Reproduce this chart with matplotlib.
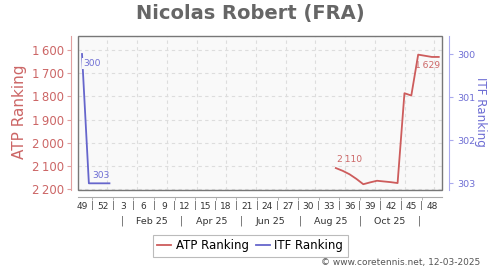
import matplotlib
matplotlib.use('Agg')
import matplotlib.pyplot as plt
import matplotlib.transforms as mtransforms
from matplotlib.patches import Rectangle

# ISO weeks shown on the x axis: 2024-W49 .. 2025-W49
week_labels = ['49', '50', '51', '52'] + [str(w) for w in range(1, 50)]

# ATP ranking, weeks 2025-W34 .. 2025-W49
atp_weeks = ['34', '35', '36', '37', '38', '39', '40', '41', '42', '43', '44', '45', '46', '47', '48', '49']
atp_rank = [2110, 2122, 2137, 2157, 2180, 2172, 2165, 2168, 2171, 2175, 1786, 1796, 1619, 1624, 1629, 1629]

# ITF ranking, weeks 2024-W49 .. 2025-W1
itf_weeks = ['49', '50', '51', '52', '1']
itf_rank = [300, 303, 303, 303, 303]

month_labels = ['Feb 25', 'Apr 25', 'Jun 25', 'Aug 25', 'Oct 25']
atp_ticks = [1600, 1700, 1800, 1900, 2000, 2100, 2200]
itf_ticks = [300, 301, 302, 303]

RED = '#cd5c5c'
RED_TXT = '#cc6666'
BLUE = '#6666cc'
BLUE_TXT = '#6e6ed4'

# positions on the week index axis
atp_x = [len(week_labels) - len(atp_weeks) + i for i in range(len(atp_weeks))]
itf_x = list(range(len(itf_weeks)))

fig = plt.figure(figsize=(5, 2.7), dpi=100)
ax = fig.add_axes([0.1566, 0.2963, 0.7268, 0.5715])
ax.set_facecolor('#f9f9f9')
ax2 = ax.twinx()

ax.plot(atp_x, atp_rank, color=RED, lw=1.3, zorder=3)
ax2.plot(itf_x, itf_rank, color=BLUE, lw=1.3, zorder=3)

ax.set_xlim(-0.54, 52.43)
ax.set_ylim(2205, 1537)
ax2.set_ylim(303.155, 299.575)

# frame around plot area
ax.add_patch(Rectangle((0, 0), 1, 1, transform=ax.transAxes, fill=False,
                       ec='#777777', lw=1.0, clip_on=False, zorder=5))
for a in (ax, ax2):
    for s in a.spines.values():
        s.set_visible(False)

ax.spines['left'].set_visible(True)
ax.spines['left'].set_position(('outward', 5))
ax.spines['left'].set_color('#e0a0a0')
ax.spines['bottom'].set_visible(True)
ax.spines['bottom'].set_position(('outward', 5))
ax.spines['bottom'].set_color('#aaaaaa')
ax2.spines['right'].set_visible(True)
ax2.spines['right'].set_position(('outward', 5))
ax2.spines['right'].set_color('#aaaaee')

def fmt(v):
    s = f'{v:,}'
    return s.replace(',', '\u2009')

ax.set_yticks(atp_ticks)
ax.set_yticklabels([fmt(v) for v in atp_ticks], color=RED_TXT, fontsize=8.5)
ax.tick_params(axis='y', length=3, color='#e0a0a0', pad=2)
ax2.set_yticks(itf_ticks)
ax2.set_yticklabels([str(v) for v in itf_ticks], color=BLUE_TXT, fontsize=6.8)
ax2.tick_params(axis='y', length=3, color='#aaaaee', pad=3)

xt = list(range(0, len(week_labels), 3))
ax.set_xticks(xt)
ax.set_xticklabels([week_labels[i] for i in xt], fontsize=6.5, color='#333333')
ax.tick_params(axis='x', length=0, pad=4)
ax.set_xticks([i + 1.5 for i in xt[:-1]], minor=True)
ax.tick_params(axis='x', which='minor', length=2, color='#aaaaaa')

# grid
ax.yaxis.grid(True, color='#dddddd', ls=(0, (3, 3)), lw=0.8)
grid_start = 3.69
grid_step = 52 / 12
for k in range(12):
    ax.axvline(grid_start + k * grid_step, color='#dddddd', ls=(0, (3, 3)), lw=0.8, zorder=1)
ax.set_axisbelow(True)

trans = mtransforms.blended_transform_factory(ax.transData, fig.transFigure)
for i in xt[:-1]:
    fig.text(0, 1 - 205 / 270, '|', transform=trans, fontsize=6.5, color='#555555',
             ha='center', va='center').set_x(i + 1.5)
for k in range(6):
    t = fig.text(0, 1 - 221 / 270, '|', transform=trans, fontsize=7, color='#555555',
                 ha='center', va='center')
    t.set_x(grid_start + grid_step / 2 + 2 * k * grid_step)
for k, lab in enumerate(month_labels):
    t = fig.text(0, 1 - 221 / 270, lab, transform=trans, fontsize=6.8, color='#333333',
                 ha='center', va='center')
    t.set_x(grid_start + grid_step * 1.5 + 2 * k * grid_step)

# point labels
bb = dict(boxstyle='square,pad=0.1', fc='#f9f9f9', ec='none')
ax2.annotate(str(itf_rank[0]), (itf_x[0], itf_rank[0]), xytext=(1, -7), textcoords='offset points',
             ha='left', va='center', fontsize=6.6, color=BLUE_TXT, bbox=bb, zorder=4)
ax2.annotate(str(itf_rank[1]), (itf_x[1], itf_rank[1]), xytext=(2.5, 5.5), textcoords='offset points',
             ha='left', va='center', fontsize=6.6, color=BLUE_TXT, zorder=4)
ax.annotate(fmt(atp_rank[0]), (atp_x[0], atp_rank[0]), xytext=(0.5, 6.5), textcoords='offset points',
            ha='left', va='center', fontsize=6.6, color=RED_TXT, zorder=4)
ax.annotate(fmt(atp_rank[-1]), (atp_x[-1], atp_rank[-1]), xytext=(1, -6), textcoords='offset points',
            ha='right', va='center', fontsize=6.6, color=RED_TXT, zorder=4)

fig.text(0.5, 1 - 14 / 270, 'Nicolas Robert (FRA)', ha='center', va='center',
         fontsize=14, fontweight='bold', color='#666666')
fig.text(20 / 500, 1 - 111.5 / 270, 'ATP Ranking', rotation=90, ha='center', va='center',
         fontsize=11, color=RED_TXT)
fig.text(481 / 500, 1 - 111.7 / 270, 'ITF Ranking', rotation=270, ha='center', va='center',
         fontsize=8.6, color=BLUE_TXT)

h1, = ax.plot([], [], color=RED, lw=1.3, label='ATP Ranking')
h2, = ax.plot([], [], color=BLUE, lw=1.3, label='ITF Ranking')
leg = fig.legend(handles=[h1, h2], loc='center', bbox_to_anchor=(0.5, 1 - 246 / 270),
                 ncol=2, fontsize=8.5, frameon=True, fancybox=False, handlelength=1.2,
                 handletextpad=0.4, columnspacing=0.6, borderpad=0.35, borderaxespad=0)
leg.get_frame().set_edgecolor('#aaaaaa')
leg.get_frame().set_linewidth(0.8)

fig.text(480 / 500, 1 - 263 / 270, '\u00a9 www.coretennis.net, 12-03-2025', ha='right', va='center',
         fontsize=6.5, color='#555555')

fig.savefig('out.png', dpi=100)
